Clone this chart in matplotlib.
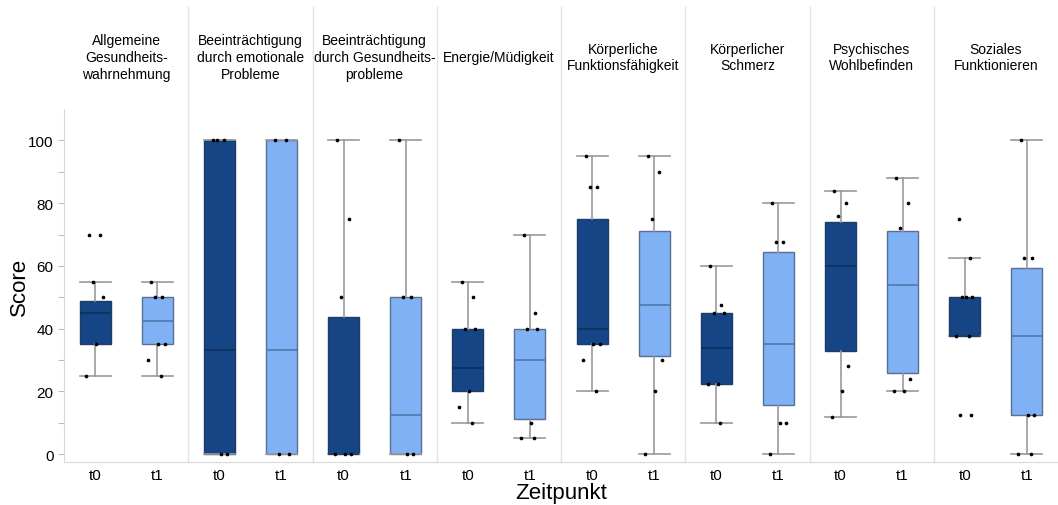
import numpy as np
import matplotlib
matplotlib.use("Agg")
import matplotlib.pyplot as plt

plt.rcParams['font.family'] = ['Liberation Sans', 'DejaVu Sans']

# Facetten (SF-36 Skalen)
skalen = ["Allgemeine\nGesundheits-\nwahrnehmung",
          "Beeinträchtigung\ndurch emotionale\nProbleme",
          "Beeinträchtigung\ndurch Gesundheits-\nprobleme",
          "Energie/Müdigkeit",
          "Körperliche\nFunktionsfähigkeit",
          "Körperlicher\nSchmerz",
          "Psychisches\nWohlbefinden",
          "Soziales\nFunktionieren"]
zeitpunkte = ["t0", "t1"]

# Boxplot-Kennwerte: (whislo, q1, med, q3, whishi) je Skala, t0 und t1
box_t0 = [(25, 35, 45, 48.75, 55),
          (0, 0, 33.3, 100, 100),
          (0, 0, 0, 43.75, 100),
          (10, 20, 27.5, 40, 55),
          (20, 35, 40, 75, 95),
          (10, 22.5, 33.75, 45, 60),
          (12, 33, 60, 74, 84),
          (37.5, 37.5, 37.5, 50, 62.5)]
box_t1 = [(25, 35, 42.5, 50, 55),
          (0, 0, 33.3, 100, 100),
          (0, 0, 12.5, 50, 100),
          (5, 11.25, 30, 40, 70),
          (0, 31.25, 47.5, 71.25, 95),
          (0, 15.6, 35, 64.4, 80),
          (20, 26, 54, 71, 88),
          (0, 12.5, 37.5, 59.4, 100)]

# Einzelwerte (Punkte)
punkte_t0 = [[70, 70, 55, 50, 35, 25],
             [100, 100, 100, 0, 0],
             [100, 75, 50, 0, 0, 0],
             [55, 50, 40, 40, 20, 15, 10],
             [95, 85, 85, 35, 35, 30, 20],
             [60, 47.5, 45, 45, 22.5, 22.5, 10],
             [84, 80, 76, 28, 20, 12],
             [75, 62.5, 50, 50, 50, 37.5, 37.5, 12.5, 12.5]]
punkte_t1 = [[55, 50, 50, 35, 35, 30, 25],
             [100, 100, 0, 0],
             [100, 50, 50, 0, 0],
             [70, 45, 40, 40, 10, 5, 5],
             [95, 90, 75, 30, 20, 0],
             [80, 67.5, 67.5, 10, 10, 0],
             [88, 80, 72, 24, 20, 20],
             [100, 62.5, 62.5, 12.5, 12.5, 0, 0]]

farben = ["#154584", "#80b1f5"]
median_farben = ["#0d2f5c", "#4f79ad"]
rand_farben = ["#1e3d66", "#566f92"]
versatz = [-0.1, 0.08, -0.04, 0.12, 0.02, -0.14, 0.06, -0.08, 0.1]

fig = plt.figure(figsize=(10.58, 5.06), dpi=100)
links, rechts = 64 / 1058, 1.0
unten, oben = 1 - 463 / 506, 1 - 110 / 506
breite = (rechts - links) / len(skalen)

for i, titel in enumerate(skalen):
    ax = fig.add_axes([links + i * breite, unten, breite, oben - unten])
    for j, (b, pk) in enumerate([(box_t0[i], punkte_t0[i]), (box_t1[i], punkte_t1[i])]):
        stats = [dict(whislo=b[0], q1=b[1], med=b[2], q3=b[3], whishi=b[4], fliers=[])]
        ax.bxp(stats, positions=[j], widths=0.5, patch_artist=True, showfliers=False,
               boxprops=dict(facecolor=farben[j], edgecolor=rand_farben[j], linewidth=1),
               medianprops=dict(color=median_farben[j], linewidth=1.2),
               whiskerprops=dict(color="#999999", linewidth=1.2),
               capprops=dict(color="#999999", linewidth=1.2),
               capwidths=0.5, zorder=2)
        xs = [j + versatz[k % len(versatz)] for k in range(len(pk))]
        ax.scatter(xs, pk, s=7, color="black", zorder=4, linewidths=0)
    ax.set_xlim(-0.5, 1.5)
    ax.set_ylim(-2.5, 110)
    ax.set_xticks([0, 1])
    ax.set_xticklabels(zeitpunkte, fontsize=11)
    ax.tick_params(axis="x", length=0, pad=4)
    for s in ["top", "right", "left"]:
        ax.spines[s].set_visible(False)
    ax.spines["bottom"].set_color("#d9d9d9")
    ax.text(0.5, 1.147, titel, transform=ax.transAxes, ha="center", va="center",
            fontsize=10, linespacing=1.25)
    if i == 0:
        ax.spines["left"].set_visible(True)
        ax.spines["left"].set_color("#d9d9d9")
        ax.set_yticks(np.arange(0, 101, 10))
        ax.set_yticklabels([str(v) if v % 20 == 0 else "" for v in range(0, 101, 10)], fontsize=11)
        ax.tick_params(axis="y", length=4, color="#bbbbbb")
        ax.set_ylabel("Score", fontsize=16)
        ax.yaxis.set_label_coords(-0.27, 0.5)
    else:
        ax.set_yticks([])
        ax.plot([0, 0], [0, 1.289], transform=ax.transAxes, color="#e3e3e3",
                linewidth=1, clip_on=False, zorder=0)

fig.text((links + rechts) / 2, 1 - 494 / 506, "Zeitpunkt", ha="center", va="center", fontsize=16)

fig.savefig("out.png", dpi=100)
